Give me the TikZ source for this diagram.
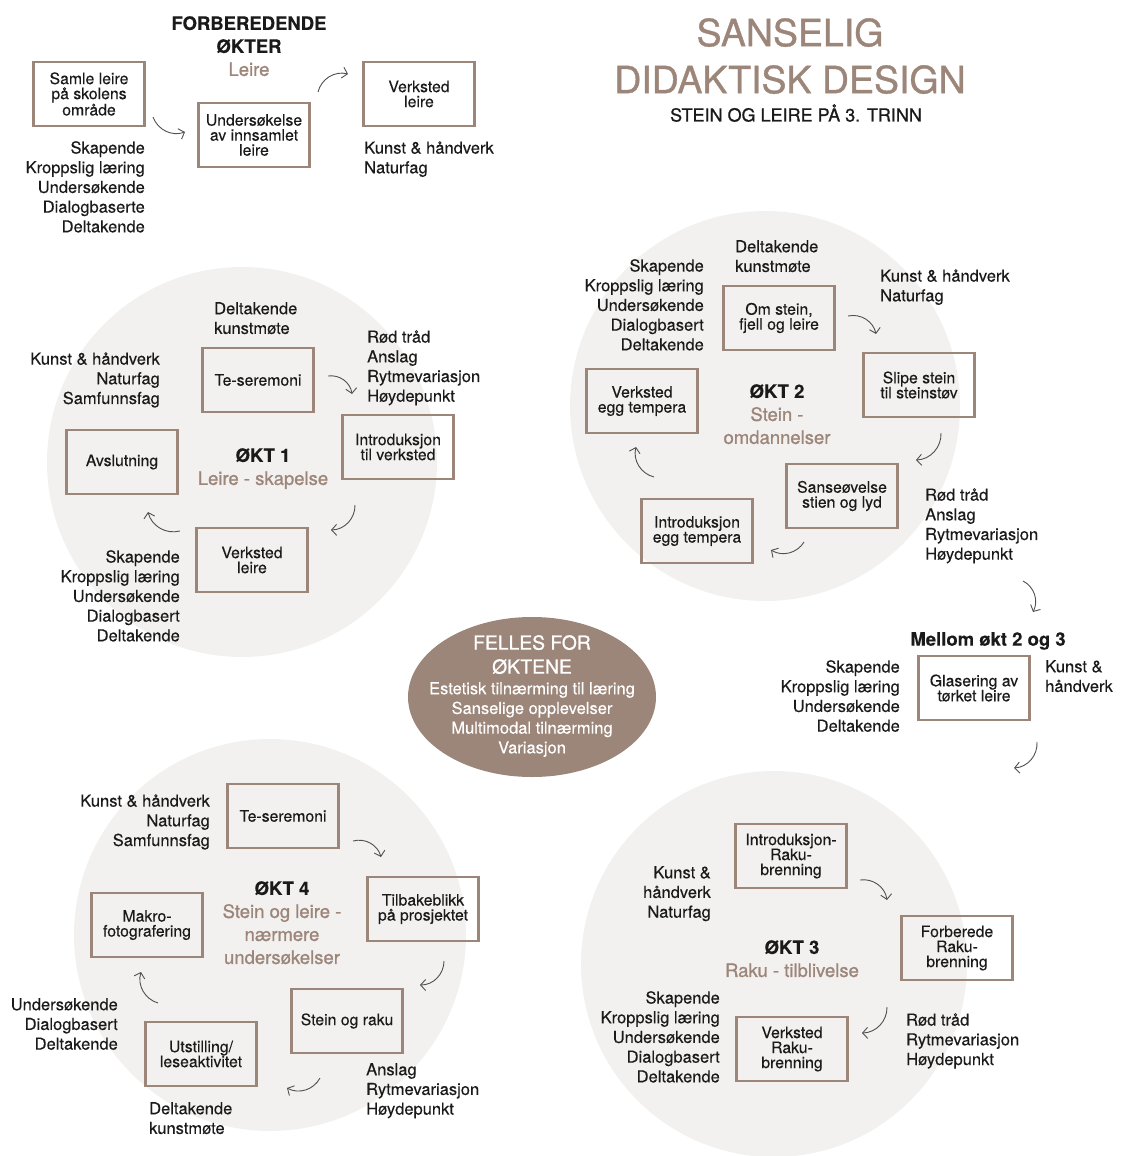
\documentclass[tikz,border=0pt]{standalone}
\usepackage{fontspec}
\setmainfont{TeX Gyre Heros}[FakeBold=0.25]
\newfontfamily\medfont{TeX Gyre Heros}[FakeBold=0.9]
\usetikzlibrary{arrows.meta}
\definecolor{clay}{HTML}{9C8579}
\definecolor{sand}{HTML}{F2F1EF}
\definecolor{ink}{HTML}{1A1A1A}
\definecolor{arrowgray}{HTML}{505050}
\newcommand{\lblsize}{\fontsize{16.5}{19.7}\selectfont}
\newcommand{\boxsize}{\fontsize{15.8}{15}\selectfont}
\newcommand{\headsize}{\fontsize{18.5}{23}\selectfont}

\begin{document}
\begin{tikzpicture}[x=1pt, y=-1pt,
  box/.style={draw=clay, line width=2.2pt, minimum width=111pt, minimum height=64pt,
    inner sep=1pt, align=center, font=\boxsize, text=ink},
  lbl/.style={inner sep=0pt, font=\lblsize, text=ink},
  lblr/.style={lbl, align=right, anchor=north east},
  lbll/.style={lbl, align=left, anchor=north west},
  okt/.style={inner sep=0pt, align=center, anchor=north, font=\headsize, text=ink},
  flow/.style={-{Straight Barb[length=5pt,width=11pt]}, draw=arrowgray, line width=0.9pt}]
  \useasboundingbox (0,0) rectangle (1120,1156);

  % background discs
  \fill[sand] (242,462) circle (195pt);
  \fill[sand] (765,406) circle (195pt);
  \fill[sand] (774,964) circle (193pt);
  \fill[sand] (270,935) circle (196pt);
  \fill[clay] (532,697) ellipse [x radius=124pt, y radius=80pt];

  % heading
  \node[inner sep=0pt, align=center, anchor=north, text=clay, font=\medfont\fontsize{37.5}{47}\selectfont] (title) at (790,18) {SANSELIG\\DIDAKTISK DESIGN};
  \node[okt, font=\medfont\fontsize{18}{23}\selectfont] (sub) at (796,104) {STEIN OG LEIRE PÅ 3. TRINN};

  % forberedende okter
  \node[okt] (forb) at (249,16) {\textbf{FORBEREDENDE}\\\textbf{ØKTER}\\\textcolor{clay}{\medfont Leire}};
  \node[box] (sa0) at (89,94) {Samle leire\\på skolens\\område};
  \node[box] (un0) at (254,135) {Undersøkelse\\av innsamlet\\leire};
  \node[box] (ve0) at (419,94) {Verksted\\leire};
  \node[lblr] (sk0) at (145,141) {Skapende\\Kroppslig læring\\Undersøkende\\Dialogbaserte\\Deltakende};
  \node[lbll] (fa0) at (364,141) {Kunst \& håndverk\\Naturfag};
  \draw[flow] ([shift={(64,23)}]sa0.center) to[bend right=45] ([shift={(-69,-3)}]un0.center);
  \draw[flow] ([shift={(64,-43)}]un0.center) to[bend left=45] ([shift={(-71,-20)}]ve0.center);

  % okt 1
  \node[okt] (t1) at (263,448) {\textbf{ØKT 1}\\\textcolor{clay}{\medfont Leire - skapelse}};
  \node[box] (te1) at (258,380) {Te-seremoni};
  \node[box] (in1) at (398,447) {Introduksjon\\til verksted};
  \node[box] (ve1) at (252,560) {Verksted\\leire};
  \node[box] (av1) at (122,462) {Avslutning};
  \node[lbll] (dk1) at (214,302) {Deltakende\\kunstmøte};
  \node[lblr] (fa1) at (160,352) {Kunst \& håndverk\\Naturfag\\Samfunnsfag};
  \node[lbll] (rt1) at (367,330) {Rød tråd\\Anslag\\Rytmevariasjon\\Høydepunkt};
  \node[lblr] (sk1) at (180,550) {Skapende\\Kroppslig læring\\Undersøkende\\Dialogbasert\\Deltakende};
  \draw[flow] ([shift={(70,-4)}]te1.center) to[bend left=45] ([shift={(-46,-53)}]in1.center);
  \draw[flow] ([shift={(-43,58)}]in1.center) to[bend left=45] ([shift={(79,-30)}]ve1.center);
  \draw[flow] ([shift={(-72,-29)}]ve1.center) to[bend left=45] ([shift={(26,50)}]av1.center);

  % okt 2
  \node[okt] (t2) at (777,384) {\textbf{ØKT 2}\\\textcolor{clay}{\medfont Stein -}\\\textcolor{clay}{\medfont omdannelser}};
  \node[box] (om2) at (779,318) {Om stein,\\fjell og leire};
  \node[box] (sl2) at (919,385) {Slipe stein\\til steinstøv};
  \node[box] (sa2) at (842,496) {Sanseøvelse\\stien og lyd};
  \node[box] (ie2) at (697,531) {Introduksjon\\egg tempera};
  \node[box] (ve2) at (642,401) {Verksted\\egg tempera};
  \node[lbll] (dk2) at (735,240) {Deltakende\\kunstmøte};
  \node[lblr] (sk2) at (704,259) {Skapende\\Kroppslig læring\\Undersøkende\\Dialogbasert\\Deltakende};
  \node[lbll] (fa2) at (880,269) {Kunst \& håndverk\\Naturfag};
  \node[lbll] (rt2) at (925,488) {Rød tråd\\Anslag\\Rytmevariasjon\\Høydepunkt};
  \draw[flow] ([shift={(69,-2)}]om2.center) to[bend left=45] ([shift={(-43,-51)}]sl2.center);
  \draw[flow] ([shift={(22,48)}]sl2.center) to[bend left=45] ([shift={(74,-36)}]sa2.center);
  \draw[flow] ([shift={(-38,46)}]sa2.center) to[bend left=45] ([shift={(74,19)}]ie2.center);
  \draw[flow] ([shift={(-43,-54)}]ie2.center) to[bend left=45] ([shift={(-6,46)}]ve2.center);

  % mellom okt 2 og 3
  \node[okt, font=\headsize\bfseries] (mel) at (988,632) {Mellom økt 2 og 3};
  \node[box] (gl5) at (974,688) {Glasering av\\tørket leire};
  \node[lblr] (sk5) at (900,660) {Skapende\\Kroppslig læring\\Undersøkende\\Deltakende};
  \node[lbll] (fa5) at (1045,660) {Kunst \&\\håndverk};
  \draw[flow] ([shift={(98,93)}]rt2.north west) to[bend left=45] ([shift={(45,-29)}]mel.center);
  \draw[flow] ([shift={(63,54)}]gl5.center) to[bend left=45] ([shift={(40,80)}]gl5.center);

  % okt 3
  \node[okt] (t3) at (792,940) {\textbf{ØKT 3}\\\textcolor{clay}{\medfont Raku - tilblivelse}};
  \node[box] (ir3) at (791,856) {Introduksjon-\\Raku-\\brenning};
  \node[box] (fo3) at (957,948) {Forberede\\Raku-\\brenning};
  \node[box] (vr3) at (792,1049) {Verksted\\Raku-\\brenning};
  \node[lblr] (fa3) at (711,866) {Kunst \&\\håndverk\\Naturfag};
  \node[lblr] (sk3) at (720,991) {Skapende\\Kroppslig læring\\Undersøkende\\Dialogbasert\\Deltakende};
  \node[lbll] (rt3) at (906,1013) {Rød tråd\\Rytmevariasjon\\Høydepunkt};
  \draw[flow] ([shift={(69,24)}]ir3.center) to[bend left=45] ([shift={(-70,-48)}]fo3.center);
  \draw[flow] ([shift={(-70,59)}]fo3.center) to[bend left=45] ([shift={(70,-16)}]vr3.center);

  % okt 4
  \node[okt] (t4) at (282,881) {\textbf{ØKT 4}\\\textcolor{clay}{\medfont Stein og leire -}\\\textcolor{clay}{\medfont nærmere}\\\textcolor{clay}{\medfont undersøkelser}};
  \node[box] (te4) at (283,816) {Te-seremoni};
  \node[box] (ti4) at (423,909) {Tilbakeblikk\\på prosjektet};
  \node[box] (st4) at (347,1021) {Stein og raku};
  \node[box] (ut4) at (201,1054) {Utstilling/\\leseaktivitet};
  \node[box] (ma4) at (147,925) {Makro-\\fotografering};
  \node[lblr] (fa4) at (210,794) {Kunst \& håndverk\\Naturfag\\Samfunnsfag};
  \node[lblr] (un4) at (118,998) {Undersøkende\\Dialogbasert\\Deltakende};
  \node[lbll] (an4) at (366,1063) {Anslag\\Rytmevariasjon\\Høydepunkt};
  \node[lbll] (dk4) at (149,1102) {Deltakende\\kunstmøte};
  \draw[flow] ([shift={(70,25)}]te4.center) to[bend left=45] ([shift={(-42,-52)}]ti4.center);
  \draw[flow] ([shift={(21,52)}]ti4.center) to[bend left=45] ([shift={(73,-36)}]st4.center);
  \draw[flow] ([shift={(-27,57)}]st4.center) to[bend left=45] ([shift={(86,34)}]ut4.center);
  \draw[flow] ([shift={(-43,-51)}]ut4.center) to[bend left=45] ([shift={(-6,47)}]ma4.center);

  % felles
  \node[okt, text=white, font=\medfont\fontsize{19.3}{24}\selectfont] (fel) at (532,635) {FELLES FOR\\ØKTENE};
  \node[lbl, anchor=north, align=center, text=white] (fel2) at (532,682) {Estetisk tilnærming til læring\\Sanselige opplevelser\\Multimodal tilnærming\\Variasjon};
\end{tikzpicture}
\end{document}
